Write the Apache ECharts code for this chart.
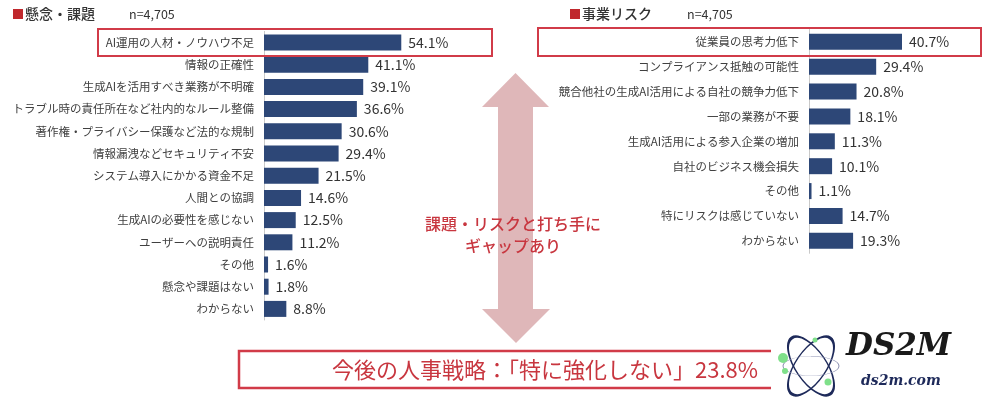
<!DOCTYPE html>
<html><head><meta charset="utf-8">
<script src="https://cdn.jsdelivr.net/npm/echarts@6/dist/echarts.min.js"></script>
<style>html,body{margin:0;padding:0;background:#fff}#c{width:1000px;height:398px}</style>
</head><body><div id="c"></div>
<script>
var leftCats = ['AI運用の人材・ノウハウ不足','情報の正確性','生成AIを活用すべき業務が不明確','トラブル時の責任所在など社内的なルール整備','著作権・プライバシー保護など法的な規制','情報漏洩などセキュリティ不安','システム導入にかかる資金不足','人間との協調','生成AIの必要性を感じない','ユーザーへの説明責任','その他','懸念や課題はない','わからない'];
var leftVals = [54.1,41.1,39.1,36.6,30.6,29.4,21.5,14.6,12.5,11.2,1.6,1.8,8.8];
var rightCats = ['従業員の思考力低下','コンプライアンス抵触の可能性','競合他社の生成AI活用による自社の競争力低下','一部の業務が不要','生成AI活用による参入企業の増加','自社のビジネス機会損失','その他','特にリスクは感じていない','わからない'];
var rightVals = [40.7,29.4,20.8,18.1,11.3,10.1,1.1,14.7,19.3];
var leftTitle = '懸念・課題';
var rightTitle = '事業リスク';
var sampleText = 'n=4,705';
var gapText1 = '課題・リスクと打ち手に';
var gapText2 = 'ギャップあり';
var bottomText = '今後の人事戦略：「特に強化しない」23.8%';

var FONT = '"Noto Sans CJK JP","Noto Sans",sans-serif';
var BAR = '#2d4777';
var RED = '#d13b48';
var TXTRED = '#c8363f';
var PINK = '#dfb7b9';

var chart = echarts.init(document.getElementById('c'), null, {renderer:'canvas'});

function catAxis(idx, cats){
  return {type:'category', gridIndex:idx, data:cats, inverse:true,
    axisLine:{show:true, lineStyle:{color:'#c9c9c9', width:1}},
    axisTick:{show:false},
    axisLabel:{color:'#404040', fontSize:11.5, fontFamily:FONT, margin:10}};
}
function valAxis(idx){
  return {type:'value', gridIndex:idx, min:0, max:80, show:false, splitLine:{show:false}};
}
function barSeries(idx, vals){
  return {type:'bar', xAxisIndex:idx, yAxisIndex:idx, data:vals, barWidth:16,
    itemStyle:{color:BAR}, silent:true,
    label:{show:true, position:'right', distance:7, color:'#333', fontSize:14, fontFamily:FONT,
      formatter:function(p){return p.value.toFixed(1)+'%';}}};
}

var graphics = [
  {type:'rect', shape:{x:13, y:9, width:10, height:10}, style:{fill:'#c0282d'}},
  {type:'text', x:25, y:14, style:{text:leftTitle, font:'500 14px '+FONT, fill:'#333', textVerticalAlign:'middle'}},
  {type:'text', x:129, y:14, style:{text:sampleText, font:'12.5px '+FONT, fill:'#333', textVerticalAlign:'middle'}},
  {type:'rect', shape:{x:570, y:9, width:10, height:10}, style:{fill:'#c0282d'}},
  {type:'text', x:582, y:14, style:{text:rightTitle, font:'500 14px '+FONT, fill:'#333', textVerticalAlign:'middle'}},
  {type:'text', x:687, y:14, style:{text:sampleText, font:'12.5px '+FONT, fill:'#333', textVerticalAlign:'middle'}},
  {type:'rect', z:10, shape:{x:98, y:29, width:394, height:27}, style:{fill:'none', stroke:RED, lineWidth:2}},
  {type:'rect', z:10, shape:{x:538, y:28, width:443, height:28}, style:{fill:'none', stroke:RED, lineWidth:2}},
  {type:'polygon', z:1, shape:{points:[[515.5,73],[549,107],[533,107],[533,309],[550,309],[516,343],[482,309],[498,309],[498,107],[482,107]]}, style:{fill:PINK}},
  {type:'text', z:5, x:513, y:224, style:{text:gapText1, font:'500 16px '+FONT, fill:TXTRED, align:'center', verticalAlign:'middle'}},
  {type:'text', z:5, x:513, y:246, style:{text:gapText2, font:'500 16px '+FONT, fill:TXTRED, align:'center', verticalAlign:'middle'}},
  {type:'rect', z:2, shape:{x:239, y:351, width:600, height:37}, style:{fill:'#fff', stroke:RED, lineWidth:2.5}},
  {type:'text', z:3, x:332, y:370, style:{text:bottomText, font:'22px '+FONT, fill:TXTRED, verticalAlign:'middle'}},
  {type:'rect', z:20, shape:{x:771, y:333, width:229, height:65}, style:{fill:'#fff'}},
  {type:'circle', z:21, x:811, y:366, scaleX:0.45, rotation:0.6, shape:{cx:0, cy:0, r:34}, style:{fill:'none', stroke:'#1e2a5a', lineWidth:3}},
  {type:'circle', z:21, x:811, y:366, scaleX:0.45, rotation:-0.6, shape:{cx:0, cy:0, r:34}, style:{fill:'none', stroke:'#1e2a5a', lineWidth:3}},
  {type:'circle', z:21, x:811, y:366, scaleX:0.35, rotation:1.57, shape:{cx:0, cy:0, r:28}, style:{fill:'none', stroke:'#8a8fb0', lineWidth:1}},
  {type:'circle', z:22, shape:{cx:783, cy:358, r:5}, style:{fill:'#7fe08a'}},
  {type:'circle', z:22, shape:{cx:785, cy:371, r:3}, style:{fill:'#7fe08a'}},
  {type:'circle', z:22, shape:{cx:828, cy:382, r:3.5}, style:{fill:'#7fe08a'}},
  {type:'circle', z:22, shape:{cx:815, cy:340, r:2.5}, style:{fill:'#7fe08a'}},
  {type:'text', z:21, x:846, y:347, style:{text:'DS2M', font:'italic 900 31px "DejaVu Serif",serif', fill:'#1a1a1a', verticalAlign:'middle'}},
  {type:'text', z:21, x:861, y:381, style:{text:'ds2m.com', font:'italic bold 14px "DejaVu Serif",serif', fill:'#1e2a5a', verticalAlign:'middle', shadowColor:'rgba(200,150,80,0.6)', shadowOffsetX:1, shadowOffsetY:1, shadowBlur:1}}
];

chart.setOption({
  animation:false,
  backgroundColor:'#fff',
  grid:[
    {left:264, top:31.4, width:203, height:288.6, containLabel:false},
    {left:809, top:29.3, width:182.8, height:224, containLabel:false}
  ],
  xAxis:[valAxis(0), valAxis(1)],
  yAxis:[catAxis(0,leftCats), catAxis(1,rightCats)],
  series:[barSeries(0,leftVals), barSeries(1,rightVals)],
  graphic:graphics
});
</script></body></html>
